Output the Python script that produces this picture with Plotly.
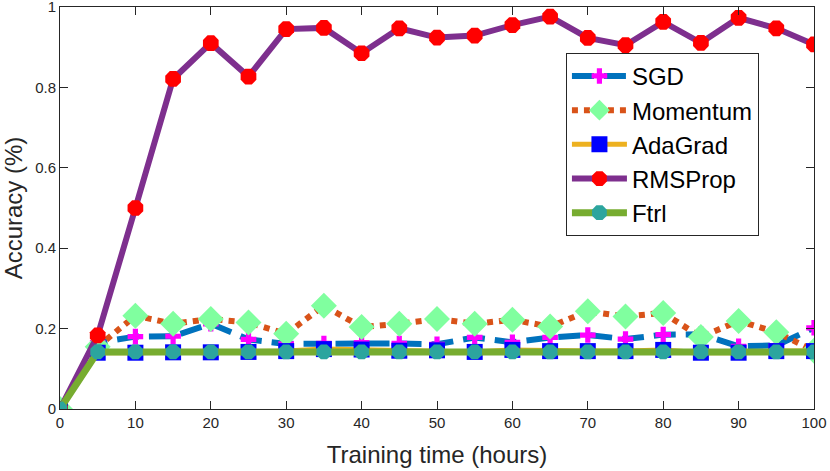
import plotly.graph_objects as go

hours = [0, 5, 10, 15, 20, 25, 30, 35, 40, 45, 50, 55, 60, 65, 70, 75, 80, 85, 90, 95, 100]

sgd = [0, 0.165, 0.180, 0.181, 0.212, 0.173, 0.162, 0.163, 0.165, 0.163, 0.161,
       0.178, 0.166, 0.178, 0.184, 0.174, 0.185, 0.186, 0.156, 0.158, 0.202]
momentum = [0, 0.155, 0.232, 0.212, 0.224, 0.215, 0.187, 0.257, 0.204, 0.212, 0.224,
            0.212, 0.222, 0.205, 0.243, 0.230, 0.239, 0.179, 0.219, 0.191, 0.145]
adagrad = [0, 0.140, 0.140, 0.141, 0.141, 0.142, 0.144, 0.149, 0.148, 0.145, 0.146,
           0.142, 0.147, 0.144, 0.144, 0.144, 0.147, 0.140, 0.140, 0.144, 0.144]
rmsprop = [0, 0.183, 0.500, 0.821, 0.910, 0.827, 0.945, 0.948, 0.885, 0.947, 0.924,
           0.929, 0.955, 0.976, 0.923, 0.905, 0.963, 0.911, 0.973, 0.947, 0.907]
ftrl = [0, 0.142, 0.142, 0.142, 0.142, 0.142, 0.142, 0.142, 0.142, 0.142, 0.142,
        0.142, 0.142, 0.142, 0.142, 0.142, 0.142, 0.142, 0.142, 0.142, 0.142]

x_ticks = [0, 10, 20, 30, 40, 50, 60, 70, 80, 90, 100]
y_ticks = [0, 0.2, 0.4, 0.6, 0.8, 1]
y_tick_text = ['0', '0.2', '0.4', '0.6', '0.8', '1']

font = 'Liberation Sans, Arial, Helvetica, sans-serif'
ink = '#262626'

fig = go.Figure()

fig.add_trace(go.Scatter(
    name='SGD', x=hours, y=sgd, mode='lines+markers',
    line=dict(color='#0072BD', width=6, dash='22px,10px'),
    marker=dict(symbol='cross', size=13, color='#FF00FF', line=dict(width=0)),
    ))
fig.add_trace(go.Scatter(
    name='Momentum', x=hours, y=momentum, mode='lines+markers',
    line=dict(color='#D95319', width=6, dash='6px,6px'),
    marker=dict(symbol='diamond', size=20, color='#80FF9F', line=dict(width=0)),
    ))
fig.add_trace(go.Scatter(
    name='AdaGrad', x=hours, y=adagrad, mode='lines+markers',
    line=dict(color='#EDB120', width=5),
    marker=dict(symbol='square', size=16, color='#0000FF', line=dict(width=0)),
    ))
fig.add_trace(go.Scatter(
    name='RMSProp', x=hours, y=rmsprop, mode='lines+markers',
    line=dict(color='#7E2F8E', width=6),
    marker=dict(symbol='octagon', size=17, color='#FF0000', line=dict(width=0)),
    ))
fig.add_trace(go.Scatter(
    name='Ftrl', x=hours, y=ftrl, mode='lines+markers',
    line=dict(color='#77AC30', width=7),
    marker=dict(symbol='octagon', size=16, color='#2CA59E', line=dict(width=0)),
    ))

axis_style = dict(showgrid=False, zeroline=False, showline=True, mirror='ticks',
                  linecolor=ink, linewidth=1, ticks='inside', ticklen=8,
                  tickcolor=ink, automargin=False, ticklabeloverflow='allow',
                  tickfont=dict(size=15, color=ink, family=font))

fig.update_xaxes(range=[0, 100], tickvals=x_ticks,
                 title=dict(text='Training time (hours)', font=dict(size=24, color=ink, family=font),
                            standoff=16),
                 **axis_style)
fig.update_yaxes(range=[0, 1], tickvals=y_ticks, ticktext=y_tick_text,
                 title=dict(text='Accuracy (%)', font=dict(size=24, color=ink, family=font),
                            standoff=8),
                 **axis_style)

fig.update_layout(
    width=830, height=471,
    margin=dict(l=60, r=16, t=7, b=62),
    plot_bgcolor='white', paper_bgcolor='white',
    font=dict(family=font, color=ink),
    legend=dict(x=0.671, y=0.886, xanchor='left', yanchor='top',
                bgcolor='white', bordercolor=ink, borderwidth=1,
                font=dict(size=24, color='black', family=font),
                itemwidth=55, tracegroupgap=0),
    )

# drop the browser's default 8px body margin so the figure sits at the page corner
fig.write_html('out.html', config={'displayModeBar': False},
               post_script="document.body.style.margin = '0';")
